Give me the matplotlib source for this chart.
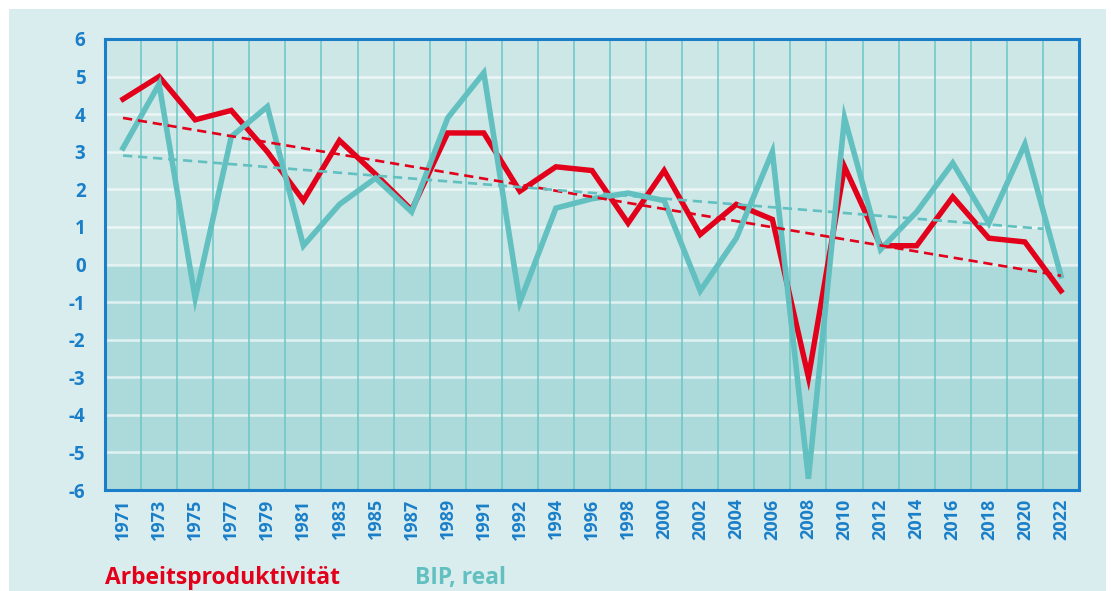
import matplotlib
matplotlib.use("Agg")
import matplotlib.pyplot as plt
from matplotlib.patches import Rectangle

years = ["1971", "1973", "1975", "1977", "1979", "1981", "1983", "1985", "1987",
         "1989", "1991", "1992", "1994", "1996", "1998", "2000", "2002", "2004",
         "2006", "2008", "2010", "2012", "2014", "2016", "2018", "2020", "2022"]

arbeitsproduktivitaet = [4.4, 5.0, 3.85, 4.1, 3.0, 1.7, 3.3, 2.4, 1.45,
                         3.5, 3.5, 1.95, 2.6, 2.5, 1.1, 2.5, 0.8, 1.6,
                         1.2, -3.0, 2.6, 0.5, 0.5, 1.8, 0.7, 0.6, -0.7]

bip_real = [3.1, 4.8, -0.9, 3.4, 4.2, 0.5, 1.6, 2.3, 1.4,
            3.9, 5.1, -1.0, 1.5, 1.75, 1.9, 1.7, -0.7, 0.7,
            3.0, -5.7, 3.9, 0.4, 1.4, 2.7, 1.1, 3.2, -0.3]

# trend lines (start value at first category, end value at last category)
trend_arbeit = [3.9, -0.3]
trend_bip = [2.9, 0.95]

RED = "#e2001a"
TEAL = "#62c0c0"
BLUE = "#1a7fc8"
BG = "#d9edef"
UPPER = "#cde6e6"
LOWER = "#acd9d9"

fig = plt.figure(figsize=(11.11, 5.91), dpi=100, facecolor="white")
bg = Rectangle((9 / 1111, 0), (1106 - 9) / 1111, 1 - 9 / 591,
               transform=fig.transFigure, facecolor=BG, edgecolor="none", zorder=-10)
fig.patches.append(bg)

ax = fig.add_axes([105 / 1111, 1 - 490 / 591, (1079 - 105) / 1111, (490 - 39) / 591])
ax.set_zorder(1)
ax.set_facecolor(UPPER)

n = len(years)
x = list(range(n))
ax.set_xlim(-0.5, n - 0.5)
ax.set_ylim(-6, 6)

ax.axhspan(-6, 0, color=LOWER, zorder=0, lw=0)

# grid
for k in range(-5, 6):
    ax.axhline(k, color="white", lw=1.8, alpha=0.65, zorder=1)
for i in range(1, n):
    ax.axvline(i - 0.5, color="#6cc6c6", lw=1.1, zorder=1)

ax.plot(x, arbeitsproduktivitaet, color=RED, lw=3.9, zorder=3, solid_joinstyle="miter")
ax.plot(x, bip_real, color=TEAL, lw=4.0, zorder=4, solid_joinstyle="miter")

ax.plot([x[0], x[-1]], trend_arbeit, color=RED, lw=1.9, ls=(0, (3.5, 2.2)), zorder=5)
ax.plot([x[0], x[-1] - 0.5], [trend_bip[0], trend_bip[1]], color=TEAL, lw=1.9,
        ls=(0, (3.5, 2.2)), zorder=5)

for s in ax.spines.values():
    s.set_color(BLUE)
    s.set_linewidth(2.2)
    s.set_zorder(6)

ax.set_xticks(x)
ax.set_xticklabels(years, rotation=90, fontsize=13, fontweight="bold",
                   color=BLUE, family="Open Sans")
ax.set_yticks(range(-6, 7))
ax.set_yticklabels([str(v) for v in range(-6, 7)], fontsize=13.5, fontweight="bold",
                   color=BLUE, family="Open Sans")
ax.tick_params(axis="both", length=0)
ax.tick_params(axis="x", pad=6)
ax.tick_params(axis="y", pad=14)

fig.text(105 / 1111, 1 - 578 / 591, "Arbeitsproduktivität", color=RED,
         fontsize=16.5, fontweight="bold", family="Open Sans", va="center", ha="left")
fig.text(415 / 1111, 1 - 578 / 591, "BIP, real", color=TEAL,
         fontsize=16.5, fontweight="bold", family="Open Sans", va="center", ha="left")

fig.savefig("out.png", dpi=100, facecolor=fig.get_facecolor())
